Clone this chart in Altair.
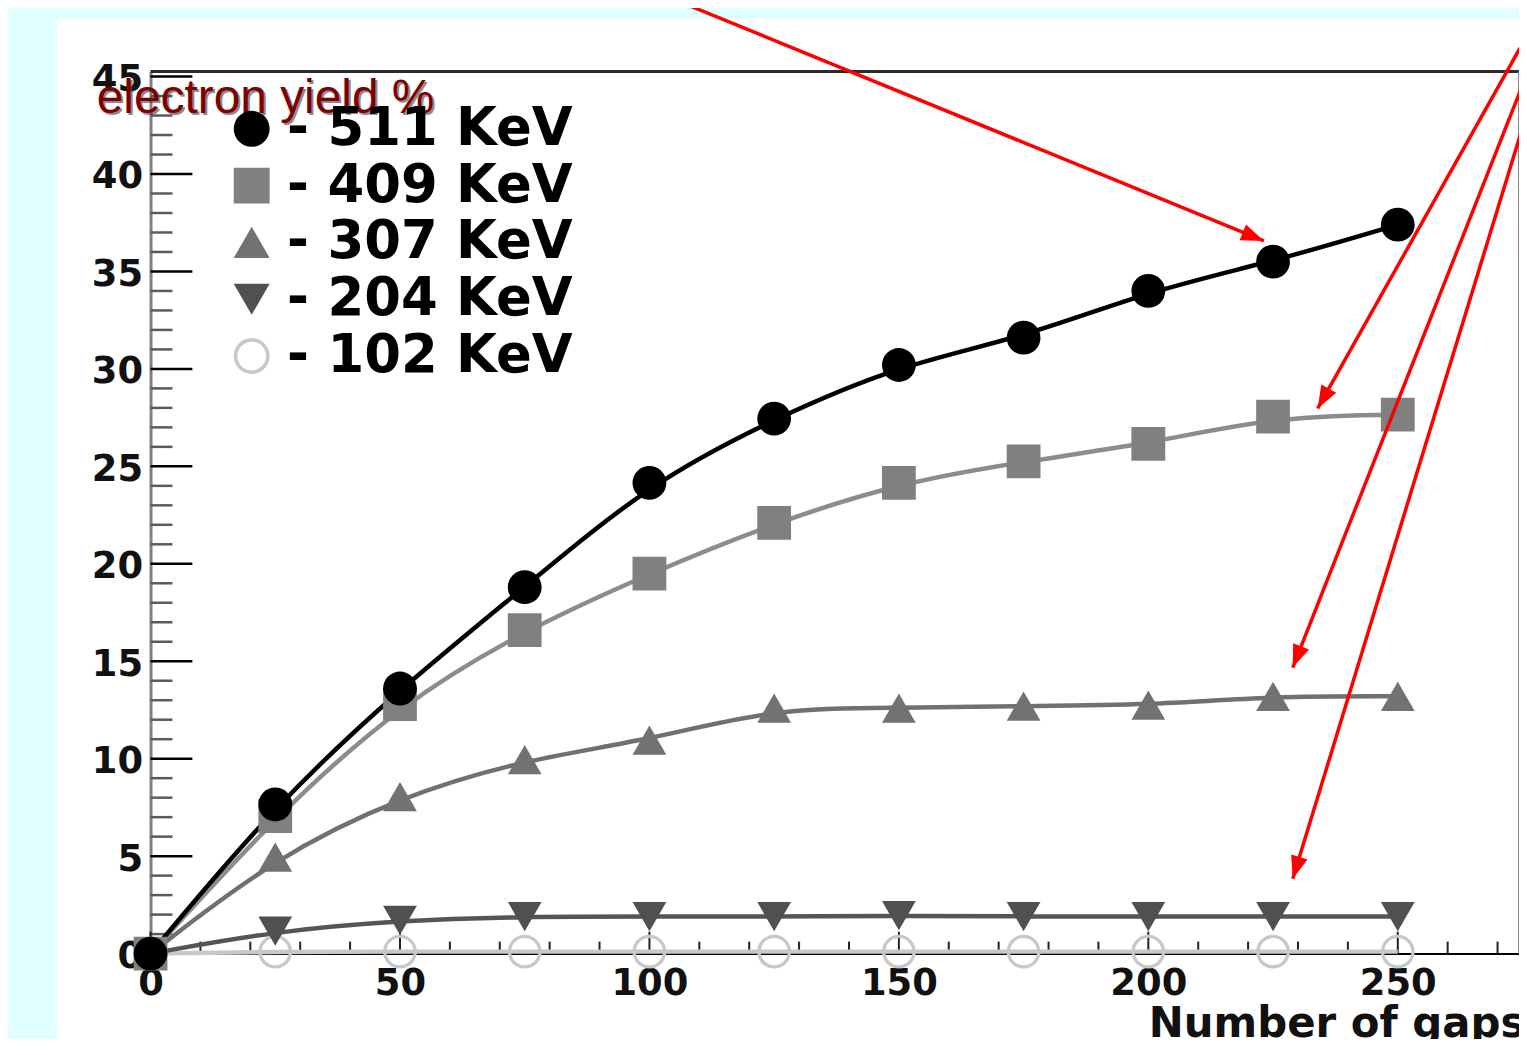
import math
import altair as alt
import pandas as pd

# ---------------- data ----------------
gaps = [0, 25, 50, 75, 100, 125, 150, 175, 200, 225, 250]
yield_511 = [0, 7.65, 13.6, 18.8, 24.15, 27.45, 30.2, 31.6, 34.0, 35.5, 37.4]
yield_409 = [0, 7.05, 12.8, 16.6, 19.5, 22.1, 24.15, 25.25, 26.15, 27.55, 27.65]
yield_307 = [0, 4.95, 8.05, 9.95, 10.95, 12.6, 12.6, 12.7, 12.75, 13.2, 13.2]
yield_204 = [0, 1.15, 1.7, 1.9, 1.9, 1.9, 1.95, 1.9, 1.9, 1.9, 1.9]
yield_102 = [0, 0.1, 0.1, 0.1, 0.1, 0.1, 0.1, 0.1, 0.1, 0.1, 0.1]

energies = ["511 KeV", "409 KeV", "307 KeV", "204 KeV", "102 KeV"]
y_tick_labels = [0, 5, 10, 15, 20, 25, 30, 35, 40, 45]
y_minor_ticks = list(range(0, 46))
x_tick_labels = [0, 50, 100, 150, 200, 250]
x_minor_ticks = list(range(0, 271, 10))

# ---------------- styles ----------------
marker_colors = ["#000000", "#808080", "#727272", "#505050", "#c8c8c8"]
line_colors = ["#000000", "#8c8c8c", "#707070", "#555555", "#c8c8c8"]
ring = ("M-1,0A1,1 0 1,0 1,0A1,1 0 1,0 -1,0Z "
        "M-0.8,0A0.8,0.8 0 1,1 0.8,0A0.8,0.8 0 1,1 -0.8,0Z")
shapes = ["circle", "square", "triangle-up", "triangle-down", ring]

W, H = 1373, 885
OX, OY = 151, 70  # page position of plot origin
BOTTOM = 84

rows = []
for name, ys in [("102 KeV", yield_102), ("204 KeV", yield_204),
                 ("307 KeV", yield_307), ("409 KeV", yield_409),
                 ("511 KeV", yield_511)]:
    for g, v in zip(gaps, ys):
        rows.append({"gaps": g, "yield": v, "energy": name, "curve": "c " + name})
df = pd.DataFrame(rows)
one = pd.DataFrame({"k": [0]})

xs = alt.Scale(domain=[0, 274.3], nice=False, zero=False)
ys_ = alt.Scale(domain=[0, 45.26], nice=False, zero=False)

FONT = "DejaVu Sans"
xaxis = alt.Axis(values=x_tick_labels, title="Number of gaps", titleX=1001, titleY=83,
                 titleAlign="left", titleBaseline="alphabetic", titleFont=FONT,
                 titleFontSize=42, titleFontWeight="bold", titleColor="#111111",
                 ticks=False, labelPadding=12, domainColor="#000000", domainWidth=2,
                 grid=False, labelFlush=False, labelFont=FONT, labelFontSize=37,
                 labelFontWeight="bold", labelColor="#111111", labelOverlap=False)
yaxis = alt.Axis(values=y_tick_labels, title=None, ticks=False, labelPadding=8,
                 labelOffset=3,
                 domainColor="#808080", domainWidth=3, grid=False, labelFont=FONT,
                 labelFontSize=37, labelFontWeight="bold", labelColor="#111111",
                 labelOverlap=False)

leg = alt.Legend(title=None, orient="none", legendX=75, legendY=31, symbolSize=1300,
                 labelFont=FONT, labelFontSize=53, labelFontWeight="bold",
                 labelColor="#000000", labelOffset=9, rowPadding=3, padding=0,
                 labelLimit=0, symbolStrokeWidth=0, labelExpr="'- ' + datum.label")

layers = []

# cyan page strips (left and top)
layers.append(alt.Chart(one).mark_rect(color="#e0ffff").encode(
    x=alt.value(-OX - 12), x2=alt.value(57 - OX), y=alt.value(-OY), y2=alt.value(H + 120)))
layers.append(alt.Chart(one).mark_rect(color="#e0ffff").encode(
    x=alt.value(-OX - 12), x2=alt.value(W + 20), y=alt.value(-OY), y2=alt.value(17 - OY)))

# frame top & right
layers.append(alt.Chart(one).mark_rule(color="#2a2a2a", strokeWidth=3).encode(
    x=alt.value(0), x2=alt.value(W), y=alt.value(0)))
layers.append(alt.Chart(one).mark_rule(color="#888888", strokeWidth=2).encode(
    x=alt.value(W), y=alt.value(0), y2=alt.value(H)))

# y ticks (inward)
ymin_df = pd.DataFrame({"v": [t for t in y_minor_ticks if t % 5 != 0]})
ymaj_df = pd.DataFrame({"v": y_tick_labels})
layers.append(alt.Chart(ymin_df).mark_rule(color="#5a5a5a", strokeWidth=2.5).encode(
    y=alt.Y("v:Q", scale=ys_, axis=yaxis), x=alt.value(0), x2=alt.value(22)))
layers.append(alt.Chart(ymaj_df).mark_rule(color="#000000", strokeWidth=2.5).encode(
    y=alt.Y("v:Q", scale=ys_, axis=yaxis), x=alt.value(0), x2=alt.value(42)))

# x ticks (inward)
xmin_df = pd.DataFrame({"v": [t for t in x_minor_ticks if t % 50 != 0]})
xmaj_df = pd.DataFrame({"v": x_tick_labels})
layers.append(alt.Chart(xmin_df).mark_rule(color="#222222", strokeWidth=2).encode(
    x=alt.X("v:Q", scale=xs, axis=xaxis), y=alt.value(H), y2=alt.value(H - 12)))
layers.append(alt.Chart(xmaj_df).mark_rule(color="#222222", strokeWidth=2).encode(
    x=alt.X("v:Q", scale=xs, axis=xaxis), y=alt.value(H), y2=alt.value(H - 22)))

# curves
layers.append(alt.Chart(df).mark_line(strokeWidth=4.5, interpolate="basis").encode(
    x=alt.X("gaps:Q", scale=xs, axis=xaxis),
    y=alt.Y("yield:Q", scale=ys_, axis=yaxis),
    stroke=alt.Stroke("curve:N",
                      scale=alt.Scale(domain=["c " + e for e in energies], range=line_colors),
                      legend=None),
))

# markers
layers.append(alt.Chart(df).mark_point(filled=True, size=1150, opacity=1, strokeWidth=0).encode(
    x=alt.X("gaps:Q", scale=xs, axis=xaxis),
    y=alt.Y("yield:Q", scale=ys_, axis=yaxis),
    color=alt.Color("energy:N", scale=alt.Scale(domain=energies, range=marker_colors), legend=leg),
    shape=alt.Shape("energy:N", scale=alt.Scale(domain=energies, range=shapes), legend=leg),
))

# red annotation arrows (page coordinates: start -> tip)
arrows = [((682, 0), (1268, 240)), ((1527, 43), (1322, 408)),
          ((1527, 85), (1297, 668)), ((1527, 128), (1297, 880))]
head = "M0,0L-0.75,2L0.75,2Z"
for (sx, sy), (tx, ty) in arrows:
    ang = math.degrees(math.atan2(tx - sx, -(ty - sy))) % 360
    layers.append(alt.Chart(one).mark_rule(color="#ff0000", strokeWidth=3.5).encode(
        x=alt.value(sx - OX), y=alt.value(sy - OY), x2=alt.value(tx - OX), y2=alt.value(ty - OY)))
    layers.append(alt.Chart(one).mark_point(filled=True, color="#ff0000", opacity=1,
                                             size=520, strokeWidth=0).encode(
        x=alt.value(tx - OX), y=alt.value(ty - OY), angle=alt.value(ang), shape=alt.value(head)))

# "electron yield %" label with shadow
layers.append(alt.Chart(one).mark_text(text="electron yield %", font="Liberation Sans",
                                        fontSize=48, color="#404040", opacity=0.6,
                                        align="left", baseline="alphabetic").encode(
    x=alt.value(97 - OX + 2), y=alt.value(112 - OY + 2)))
layers.append(alt.Chart(one).mark_text(text="electron yield %", font="Liberation Sans",
                                        fontSize=48, color="#800000",
                                        align="left", baseline="alphabetic").encode(
    x=alt.value(97 - OX), y=alt.value(112 - OY)))

chart = alt.layer(*layers).properties(
    width=W, height=H,
    autosize=alt.AutoSizeParams(type="none"),
    padding={"left": OX - 8, "top": OY - 8, "right": 0, "bottom": BOTTOM},
    background="#ffffff",
).configure_view(stroke="transparent")

chart.save("out.html", embed_options={"renderer": "svg", "actions": False})
